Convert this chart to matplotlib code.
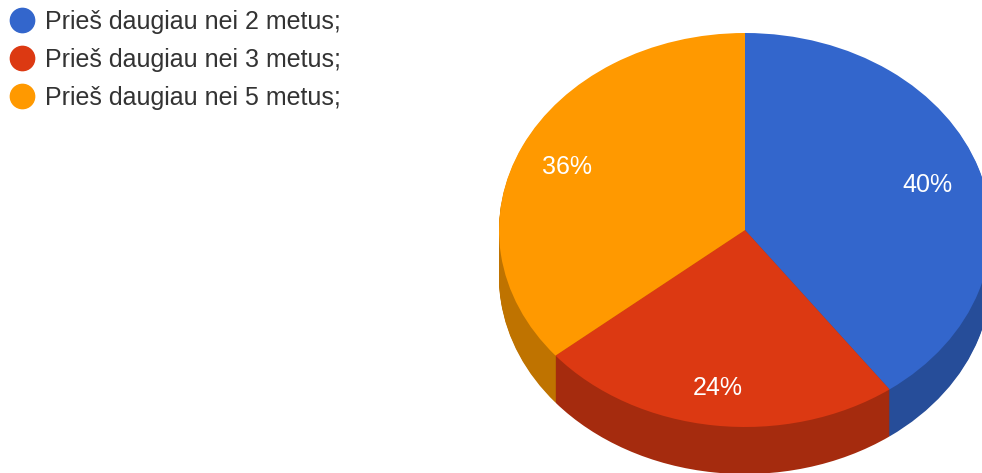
import matplotlib
matplotlib.use("Agg")
import matplotlib.pyplot as plt
from matplotlib.lines import Line2D

labels = ["Prieš daugiau nei 2 metus;", "Prieš daugiau nei 3 metus;", "Prieš daugiau nei 5 metus;"]
values = [40, 24, 36]
colors = ["#3366cc", "#dc3912", "#ff9900"]
side_colors = ["#264d99", "#a52b0e", "#bf7300"]

W, H = 982, 473
# pie centre and radii in pixels
cx, cy, rx, ry = 745, 230, 246, 197
depth = 47

fig = plt.figure(figsize=(W / 100, H / 100), dpi=100)
ax = fig.add_axes([0, 0, 1, 1])

# side of the pie: the same pie repeated downwards, one layer per pixel
for d in range(depth, 0, -1):
    ax.pie(values, colors=side_colors, startangle=90, counterclock=False,
           center=(0, -d / ry), radius=1, wedgeprops={"linewidth": 0})

# top of the pie
wedges, texts, autotexts = ax.pie(values, colors=colors, startangle=90, counterclock=False,
       radius=1, wedgeprops={"linewidth": 0}, autopct="%d%%", pctdistance=0.79,
       textprops={"color": "white", "fontsize": 18, "family": "Liberation Sans"})

# nudge the percent labels a few pixels
for t in autotexts:
    x, y = t.get_position()
    t.set_position((x - 2.5 / rx, y - 3.5 / ry))

ax.set_aspect("auto")
ax.set_xlim((0 - cx) / rx, (W - cx) / rx)
ax.set_ylim((cy - H) / ry, cy / ry)

handles = [Line2D([], [], linestyle="none", marker="o", markersize=17.5, color=c) for c in colors]
leg = fig.legend(handles, labels, loc="upper left", bbox_to_anchor=(-4 / W, 1 - 2 / H), frameon=False,
                 prop={"family": "Liberation Sans", "size": 18}, labelcolor="#333333",
                 handletextpad=0.15, labelspacing=0.56, borderpad=0.3, borderaxespad=0.0,
                 handlelength=1.5)

fig.savefig("out.png", dpi=100)
